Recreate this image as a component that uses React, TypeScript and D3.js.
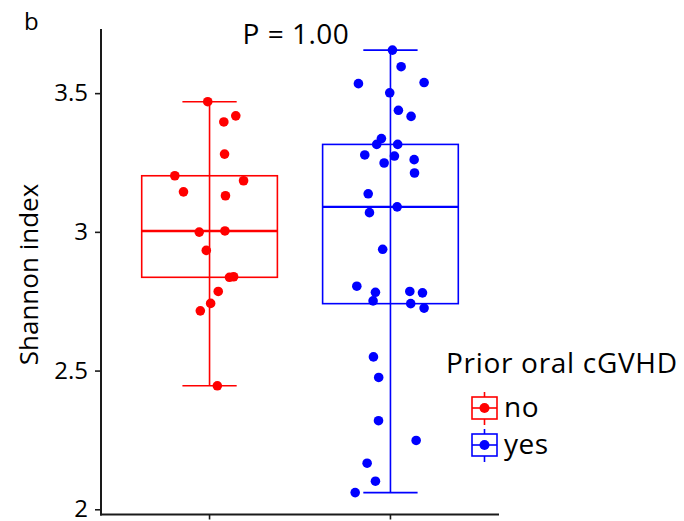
import React from "react";
import * as d3 from "d3";

// Shannon index per patient, grouped by prior oral cGVHD
const groups = ["no", "yes"];
const colors = ["#FF0000", "#0000FF"];

const noValues = [3.471, 3.42, 3.398, 3.282, 3.204, 3.186, 3.146, 3.132, 3.001, 3.005, 2.935, 2.838, 2.84, 2.787, 2.744, 2.717, 2.447];
const noJitter = [-0.01, 0.145, 0.079, 0.083, -0.192, 0.188, -0.144, 0.088, -0.057, 0.085, -0.018, 0.11, 0.133, 0.048, 0.006, -0.051, 0.043];

const yesValues = [3.657, 3.597, 3.536, 3.54, 3.503, 3.44, 3.418, 3.338, 3.317, 3.317, 3.279, 3.275, 3.25, 3.262, 3.214, 3.139, 3.092, 3.071, 2.939, 2.806, 2.784, 2.753, 2.787, 2.782, 2.743, 2.727, 2.551, 2.477, 2.321, 2.25, 2.168, 2.103, 2.062];
const yesJitter = [0.011, 0.059, -0.177, 0.186, -0.004, 0.044, 0.114, -0.05, -0.076, 0.04, -0.142, 0.022, -0.035, 0.131, 0.133, -0.123, 0.037, -0.116, -0.043, -0.186, -0.083, -0.096, 0.107, 0.177, 0.112, 0.186, -0.094, -0.065, -0.066, 0.142, -0.129, -0.083, -0.195];

const yTicks = [2, 2.5, 3, 3.5];
const yTickLabels = ["2", "2.5", "3", "3.5"];
const pLabel = "P = 1.00";
const legendTitle = "Prior oral cGVHD";

const FONT = "'Open Sans', sans-serif";

function boxStats(values: number[]) {
  const s = [...values].sort(d3.ascending);
  const q1 = d3.quantile(s, 0.25)!;
  const med = d3.quantile(s, 0.5)!;
  const q3 = d3.quantile(s, 0.75)!;
  const iqr = q3 - q1;
  const lo = d3.min(s.filter((v) => v >= q1 - 1.5 * iqr))!;
  const hi = d3.max(s.filter((v) => v <= q3 + 1.5 * iqr))!;
  return { q1, med, q3, lo, hi };
}

export default function App() {
  const width = 684;
  const height = 521;
  const plot = { left: 101, right: 499, top: 29, bottom: 514.5 };

  const x = d3.scaleLinear().domain([0.4, 2.6]).range([plot.left, plot.right]);
  const y = d3.scaleLinear().domain([1.983, 3.733]).range([plot.bottom, plot.top]);

  const series = [
    { values: noValues, jitter: noJitter },
    { values: yesValues, jitter: yesJitter },
  ];

  return (
    <div style={{ position: "absolute", left: 0, top: 0 }}>
      <svg width={width} height={height} style={{ display: "block", background: "#fff" }} fontFamily={FONT}>
        {/* panel label */}
        <text x={24} y={30} fontSize={24} fill="#000">b</text>

        {/* boxes, whiskers and points */}
        {series.map((s, i) => {
          const st = boxStats(s.values);
          const cx = x(i + 1);
          const hw = x(0.375) - x(0);
          const cw = x(0.15) - x(0);
          const c = colors[i];
          return (
            <g key={groups[i]}>
              <line x1={cx} x2={cx} y1={y(st.hi)} y2={y(st.lo)} stroke={c} strokeWidth={1.6} />
              <line x1={cx - cw} x2={cx + cw} y1={y(st.hi)} y2={y(st.hi)} stroke={c} strokeWidth={1.6} />
              <line x1={cx - cw} x2={cx + cw} y1={y(st.lo)} y2={y(st.lo)} stroke={c} strokeWidth={1.6} />
              <rect x={cx - hw} y={y(st.q3)} width={2 * hw} height={y(st.q1) - y(st.q3)} fill="none" stroke={c} strokeWidth={1.6} />
              <line x1={cx - hw} x2={cx + hw} y1={y(st.med)} y2={y(st.med)} stroke={c} strokeWidth={2.4} />
              {s.values.map((v, j) => (
                <circle key={j} cx={x(i + 1 + s.jitter[j])} cy={y(v)} r={4.8} fill={c} />
              ))}
            </g>
          );
        })}

        {/* y axis */}
        <line x1={plot.left} x2={plot.left} y1={plot.top} y2={plot.bottom + 1} stroke="#1a1a1a" strokeWidth={2} />
        {yTicks.map((t, i) => (
          <g key={t}>
            <line x1={plot.left - 6} x2={plot.left} y1={y(t)} y2={y(t)} stroke="#1a1a1a" strokeWidth={1.6} />
            <text x={plot.left - 13} y={y(t)} dy="0.32em" textAnchor="end" fontSize={24} fill="#000">
              {yTickLabels[i]}
            </text>
          </g>
        ))}

        {/* x axis */}
        <line x1={plot.left - 1} x2={plot.right} y1={plot.bottom} y2={plot.bottom} stroke="#1a1a1a" strokeWidth={2} />
        {groups.map((g, i) => (
          <line key={g} x1={x(i + 1)} x2={x(i + 1)} y1={plot.bottom} y2={plot.bottom + 5} stroke="#1a1a1a" strokeWidth={1.6} />
        ))}

        {/* y axis title */}
        <text transform={`translate(38,${(182 + 367) / 2}) rotate(-90)`} textAnchor="middle" fontSize={26} fill="#000">
          Shannon index
        </text>

        {/* test statistic */}
        <text x={296} y={44} textAnchor="middle" fontSize={28} letterSpacing={0.5} fill="#000">{pLabel}</text>

        {/* legend */}
        <text x={446} y={373} fontSize={28} letterSpacing={0.7} fill="#000">{legendTitle}</text>
        {groups.map((g, i) => {
          const ky = 408 + i * 37;
          const c = colors[i];
          return (
            <g key={g}>
              <line x1={484.5} x2={484.5} y1={ky - 16} y2={ky + 17} stroke={c} strokeWidth={1.6} />
              <rect x={472} y={ky - 11} width={25} height={22} fill="#fff" stroke={c} strokeWidth={1.6} />
              <line x1={472} x2={497} y1={ky} y2={ky} stroke={c} strokeWidth={1.6} />
              <circle cx={484.5} cy={ky} r={5} fill={c} />
              <text x={504} y={ky} dy="0.33em" fontSize={28} letterSpacing={0.5} fill="#000">{g}</text>
            </g>
          );
        })}
      </svg>
    </div>
  );
}
